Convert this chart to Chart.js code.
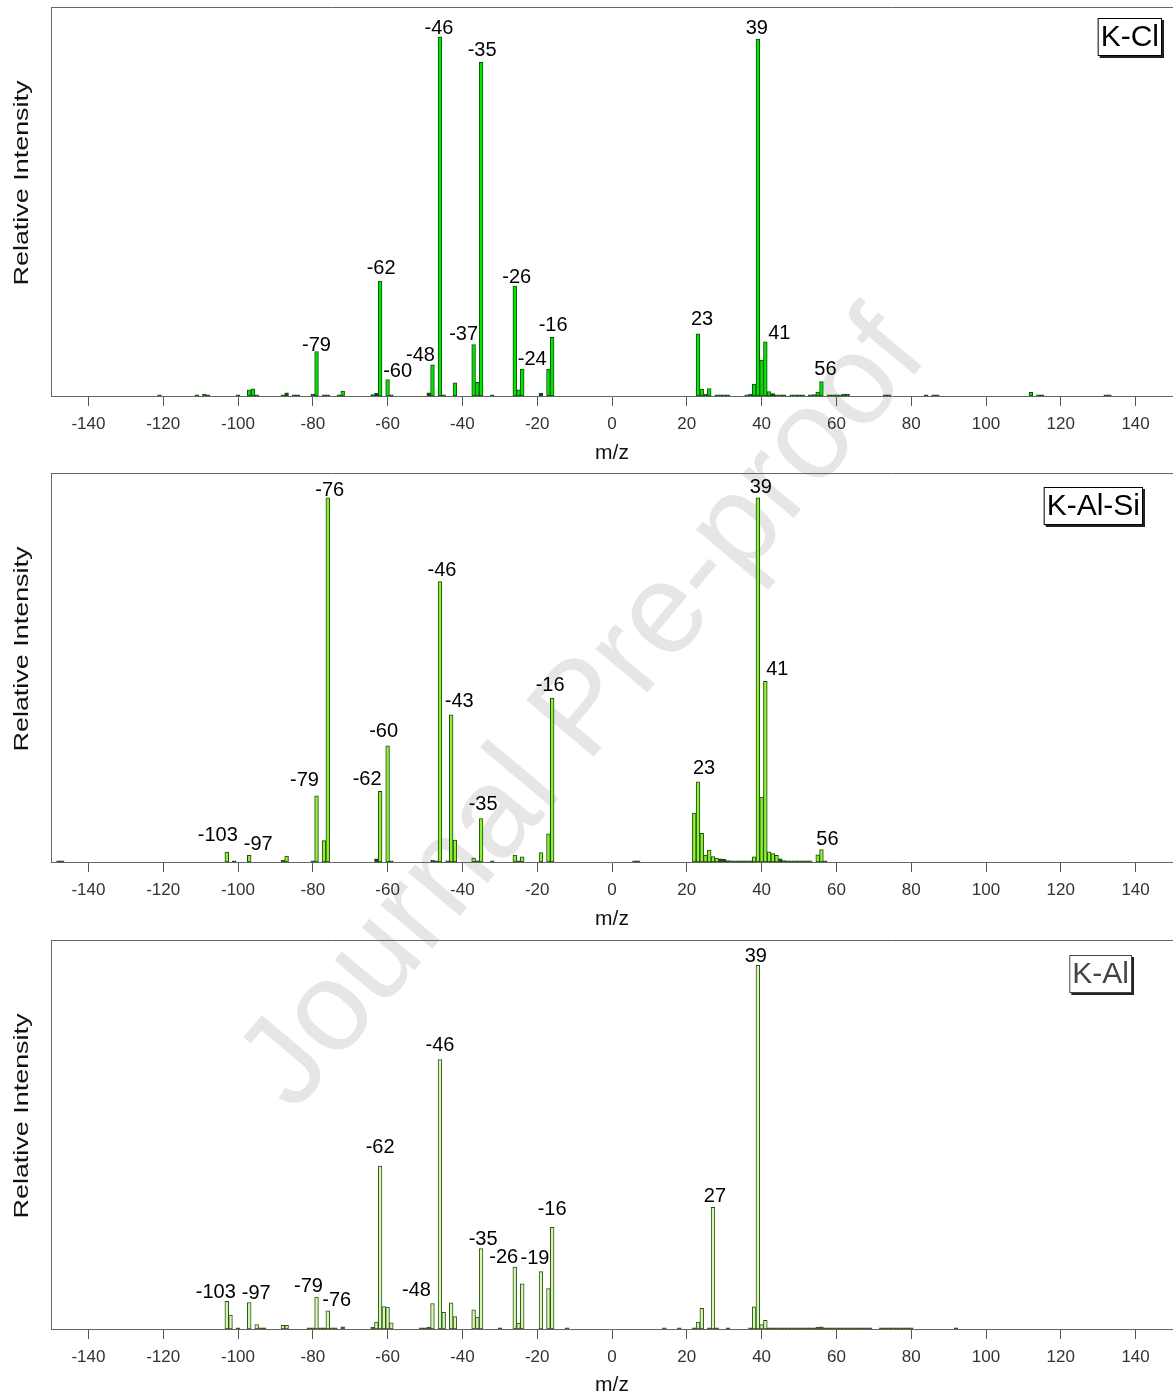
<!DOCTYPE html>
<html>
<head>
<meta charset="utf-8">
<script src="https://cdn.jsdelivr.net/npm/chart.js@4.4.0/dist/chart.umd.min.js"></script>
<style>
  html, body { margin: 0; padding: 0; background: #fff; }
  #page { position: relative; width: 1173px; height: 1398px; overflow: hidden; }
  #mark { position: absolute; left: 0; top: 0; }
  .panel { position: absolute; left: 0; width: 1173px; }
</style>
</head>
<body>
<div id="page">
  <canvas id="mark" width="1173" height="1398"></canvas>
  <div class="panel" style="top:0;height:466px"><canvas id="kcl"></canvas></div>
  <div class="panel" style="top:466px;height:466px"><canvas id="kalsi"></canvas></div>
  <div class="panel" style="top:933px;height:465px"><canvas id="kal"></canvas></div>
</div>
<script>
// x axis tick labels
var xTicks = [-140, -120, -100, -80, -60, -40, -20, 0, 20, 40, 60, 80, 100, 120, 140];

// K-Cl spectrum (relative intensity, tallest peak = 100)
var kclMz = [-121, -111, -109, -108, -100, -97, -96, -95, -88, -87, -85, -84,
  -80, -79, -77, -76, -73, -72, -64, -63, -62, -60, -59, -49, -48, -46, -45, -42,
  -37, -36, -35, -32, -26, -25, -24, -19, -17, -16,
  23, 24, 25, 26, 28, 29, 30, 31, 36, 37, 38, 39, 40, 41, 42, 43, 44, 45, 46,
  48, 49, 50, 51, 53, 54, 55, 56, 58, 59, 60, 61, 62, 63, 73, 74, 84, 86, 87,
  112, 114, 115, 132, 133];
var kclInt = [0.3, 0.3, 0.5, 0.3, 0.3, 1.7, 2.0, 0.3, 0.3, 0.9, 0.3, 0.3,
  0.5, 12.4, 0.3, 0.3, 0.3, 1.4, 0.4, 0.8, 32.0, 4.6, 0.3, 0.9, 8.7, 100, 0.3, 3.7,
  14.3, 3.8, 92.9, 0.3, 30.6, 1.7, 7.5, 0.8, 7.5, 16.3,
  17.3, 1.9, 0.5, 2.1, 0.3, 0.3, 0.3, 0.3, 0.3, 0.5, 3.3, 99.4, 10.0, 15.1, 1.2, 0.7, 0.3, 0.3, 0.3,
  0.3, 0.3, 0.3, 0.3, 0.3, 0.4, 1.1, 4.0, 0.3, 0.3, 0.3, 0.3, 0.5, 0.5, 0.3, 0.3, 0.3, 0.3, 0.3,
  1.0, 0.3, 0.3, 0.3, 0.3];
var kclPeaks = [-79, -62, -60, -48, -46, -37, -35, -26, -24, -16, 23, 39, 41, 56];

// K-Al-Si spectrum
var kalsiMz = [-148, -147, -103, -101, -97, -88, -87, -80, -79, -77, -76,
  -63, -62, -60, -59, -48, -47, -46, -44, -43, -42, -37, -36, -35, -32,
  -26, -25, -24, -19, -17, -16, 6, 7,
  22, 23, 24, 25, 26, 27, 28, 29, 30, 31, 32, 33, 34, 35, 36, 37, 38, 39, 40, 41,
  42, 43, 44, 45, 46, 47, 48, 49, 50, 51, 52, 53, 55, 56, 57];
var kalsiInt = [0.3, 0.3, 2.7, 0.3, 1.8, 0.5, 1.6, 0.3, 18.2, 5.9, 100,
  0.9, 19.4, 31.9, 0.3, 0.5, 0.3, 77.0, 0.3, 40.4, 6.0, 1.1, 0.3, 11.9, 0.3,
  1.9, 0.3, 1.4, 2.6, 7.7, 45.0, 0.3, 0.3,
  13.4, 22.0, 7.9, 1.9, 3.3, 1.5, 1.1, 0.9, 0.7, 0.4, 0.3, 0.3, 0.3, 0.3, 0.3, 0.3, 1.4, 100, 17.8, 49.6,
  2.8, 2.3, 1.8, 0.9, 0.4, 0.3, 0.3, 0.3, 0.3, 0.3, 0.3, 0.3, 2.0, 3.4, 0.3];
var kalsiPeaks = [-103, -97, -79, -76, -62, -60, -46, -43, -35, -16, 23, 39, 41, 56];

// K-Al spectrum
var kalMz = [-103, -102, -100, -97, -95, -94, -93, -88, -87, -81, -80, -79, -78, -77,
  -76, -75, -74, -72, -64, -63, -62, -61, -60, -59, -51, -50, -49, -48, -46, -45,
  -43, -42, -37, -36, -35, -30, -26, -25, -24, -19, -17, -16, -12,
  14, 18, 22, 23, 24, 26, 27, 28, 31, 37, 38, 39, 40, 41, 42, 43,
  44, 45, 46, 47, 48, 49, 50, 51, 52, 53, 54, 55, 56, 57, 58, 59, 60, 61, 62, 63,
  64, 65, 66, 67, 68, 69, 72, 73, 74, 75, 76, 77, 78, 79, 80, 92];
var kalInt = [7.6, 3.8, 0.3, 7.3, 1.2, 0.3, 0.3, 1.0, 1.0, 0.3, 0.3, 8.8, 0.3, 0.3,
  5.0, 0.3, 0.3, 0.6, 0.5, 1.9, 44.8, 6.2, 6.0, 1.7, 0.3, 0.3, 0.5, 7.0, 74.1, 4.6,
  7.2, 3.4, 5.3, 3.3, 22.1, 0.3, 17.0, 1.6, 12.4, 15.8, 11.1, 28.0, 0.3,
  0.3, 0.3, 0.3, 1.9, 5.7, 0.3, 33.5, 0.3, 0.3, 0.3, 6.1, 100, 1.2, 2.4, 0.3, 0.3,
  0.3, 0.3, 0.3, 0.3, 0.3, 0.3, 0.3, 0.3, 0.3, 0.3, 0.3, 0.5, 0.6, 0.3, 0.3, 0.3, 0.3, 0.3, 0.3, 0.3,
  0.3, 0.3, 0.3, 0.3, 0.3, 0.3, 0.3, 0.3, 0.3, 0.3, 0.3, 0.3, 0.3, 0.3, 0.3, 0.3];
var kalPeaks = [-103, -97, -79, -76, -62, -48, -46, -35, -26, -19, -16, 27, 39];

var FONT = "'Liberation Sans', Arial, sans-serif";

// label nudges [dx, dy] in px, so labels sit where the original put them
var kclNudge = { '-79': [0, 4], '-62': [1, -3], '-60': [10, 2], '-48': [-12, 0], '-46': [-1, 1],
  '-37': [-10, -1], '-35': [1, -2], '-26': [2, 1], '-24': [10, 0], '-16': [1, -2],
  '23': [4, -5], '39': [-1, -1], '41': [14, 1], '56': [4, -3] };
var kalsiNudge = { '-103': [-9, -7], '-97': [9, -1], '-79': [-12, -6], '-76': [2, 2], '-62': [-13, -2],
  '-60': [-4, -5], '-46': [2, -2], '-43': [8, -4], '-35': [2, -5], '-16': [-2, -3],
  '23': [6, -4], '39': [3, -1], '41': [12, -2], '56': [6, -1] };
var kalNudge = { '-103': [-11, 1], '-97': [7, 1], '-79': [-8, -1], '-76': [9, -1], '-62': [0, -9],
  '-48': [-16, -4], '-46': [0, -5], '-35': [2, 0], '-26': [-11, 0], '-19': [-6, -4],
  '-16': [0, -8], '27': [2, -1], '39': [-2, 1] };

function makeChart(id, name, mz, inten, peaks, yMax, fill, edge, nudge, box) {
  var points = mz.map(function(m, i) { return { x: m, y: inten[i] }; });
  var el = document.getElementById(id);
  var axisH = el.parentNode.clientHeight - 396;

  var decor = {
    id: 'decor_' + id,
    afterDraw: function(chart) {
      var ctx = chart.ctx;
      var a = chart.chartArea;
      ctx.save();
      // top frame line
      ctx.strokeStyle = '#666';
      ctx.lineWidth = 1;
      ctx.beginPath();
      ctx.moveTo(a.left, a.top + 0.5);
      ctx.lineTo(a.right, a.top + 0.5);
      ctx.stroke();

      // y axis title, stretched like the original
      ctx.save();
      ctx.translate(22, 183);
      ctx.rotate(-Math.PI / 2);
      ctx.font = '20px ' + FONT;
      ctx.fillStyle = '#111';
      ctx.textAlign = 'center';
      ctx.textBaseline = 'middle';
      var t = 'Relative Intensity';
      var w = ctx.measureText(t).width;
      ctx.scale(205 / w, 1);
      ctx.fillText(t, 0, 0);
      ctx.restore();

      // peak labels
      var meta = chart.getDatasetMeta(0);
      ctx.font = '20px ' + FONT;
      ctx.fillStyle = '#000';
      ctx.textAlign = 'center';
      ctx.textBaseline = 'alphabetic';
      peaks.forEach(function(p) {
        var bar = meta.data[mz.indexOf(p)];
        var n = nudge[String(p)] || [0, 0];
        ctx.fillText(String(p), bar.x + n[0], bar.y - 4 + n[1]);
      });

      // sample name box with shadow
      ctx.font = '30px ' + FONT;
      var tw = ctx.measureText(name).width;
      var bw = tw + 6, bh = 38;
      var bx = box.right - bw, by = box.top;
      ctx.fillStyle = '#222';
      ctx.fillRect(bx + 2, by + 2, bw, bh);
      ctx.fillStyle = '#fff';
      ctx.fillRect(bx, by, bw, bh);
      ctx.strokeStyle = box.color;
      ctx.strokeRect(bx + 0.5, by + 0.5, bw - 1, bh - 1);
      ctx.fillStyle = box.color;
      ctx.textAlign = 'left';
      ctx.textBaseline = 'middle';
      ctx.fillText(name, bx + 3, by + bh / 2 + 1);
      ctx.restore();
    }
  };

  return new Chart(el, {
    type: 'bar',
    data: {
      datasets: [{
        label: name,
        data: points,
        // near-zero bins read as dark ticks on the baseline
        backgroundColor: function(c) { return c.raw && c.raw.y < 1 ? edge : fill; },
        borderColor: edge,
        borderWidth: 1,
        borderSkipped: false,
        barPercentage: 1,
        categoryPercentage: 1
      }]
    },
    options: {
      responsive: true,
      maintainAspectRatio: false,
      animation: false,
      layout: { padding: { top: 7, left: 0, right: 0, bottom: 0 } },
      plugins: {
        legend: { display: false },
        tooltip: { enabled: false }
      },
      scales: {
        x: {
          type: 'linear',
          min: -150,
          max: 150,
          offset: false,
          afterBuildTicks: function(scale) {
            scale.ticks = xTicks.map(function(v) { return { value: v }; });
          },
          afterFit: function(scale) { scale.height = axisH; },
          grid: {
            offset: false,
            drawOnChartArea: false,
            drawTicks: true,
            tickLength: 10,
            color: '#555'
          },
          border: { display: true, color: '#666', width: 1 },
          ticks: {
            autoSkip: false,
            maxRotation: 0,
            padding: 8,
            color: '#333',
            font: { family: FONT, size: 17 }
          },
          title: {
            display: true,
            text: 'm/z',
            color: '#111',
            font: { family: FONT, size: 21 },
            padding: { top: 0, bottom: 0 }
          }
        },
        y: {
          min: 0,
          max: yMax,
          afterFit: function(scale) { scale.width = 51; },
          grid: { display: false },
          border: { display: true, color: '#666', width: 1 },
          ticks: { display: false }
        }
      }
    },
    plugins: [decor]
  });
}

// faint watermark behind the panels
(function() {
  var c = document.getElementById('mark').getContext('2d');
  c.save();
  c.translate(585, 712);
  c.rotate(-50 * Math.PI / 180);
  c.font = '128px ' + FONT;
  c.fillStyle = '#e6e6e6';
  c.textAlign = 'center';
  c.textBaseline = 'middle';
  c.fillText('Journal Pre-proof', 0, 0);
  c.restore();
})();

makeChart('kcl', 'K-Cl', kclMz, kclInt, kclPeaks, 108.3, '#00e600', '#0f4d0f', kclNudge,
  { right: 1162, top: 18, color: '#000' });
makeChart('kalsi', 'K-Al-Si', kalsiMz, kalsiInt, kalsiPeaks, 106.8, '#8ef032', '#1e4a0a', kalsiNudge,
  { right: 1143, top: 21, color: '#000' });
makeChart('kal', 'K-Al', kalMz, kalInt, kalPeaks, 107, '#d4f7b4', '#2d5016', kalNudge,
  { right: 1132, top: 22, color: '#444' });
</script>
</body>
</html>
